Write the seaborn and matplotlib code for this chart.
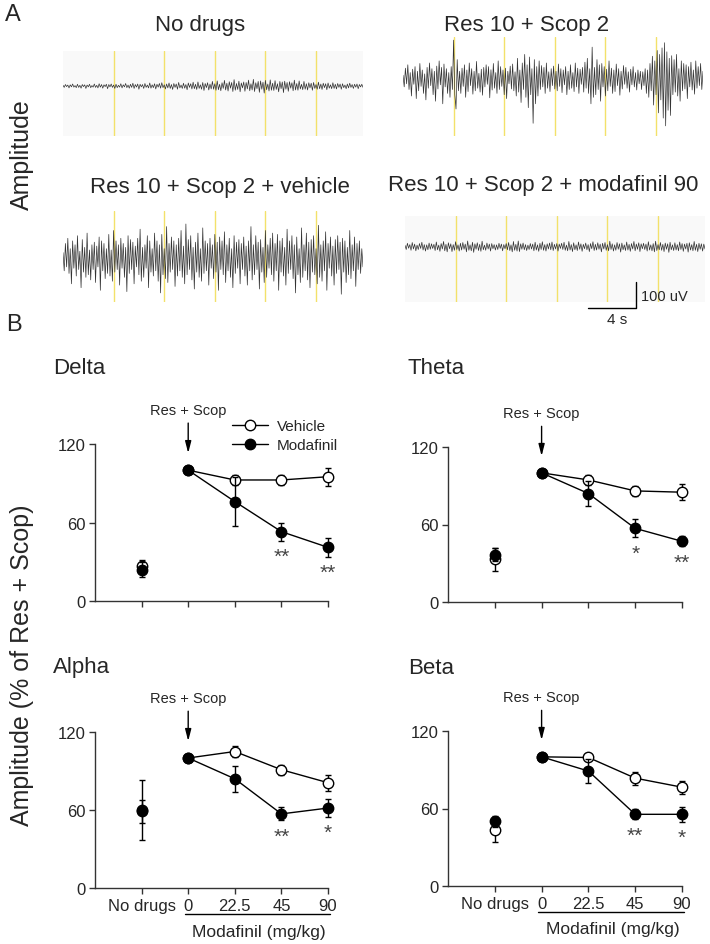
import numpy as np
import pandas as pd
import matplotlib
matplotlib.use("Agg")
import matplotlib.pyplot as plt
import matplotlib.transforms as mtransforms
from matplotlib.lines import Line2D
import seaborn as sns

sns.set_style("ticks")
plt.rcParams["font.family"] = ["Liberation Sans", "DejaVu Sans"]

W, H = 710, 945

# --- panel A: example EEG traces (uV), one sample every 0.1 s ---
sample_step = 0.1
trace_no_drugs = [
    3, -5, 6, -2, 4, -7, 5, -3, 8, -4, 2, -6, 7, -5, 3, -8, 6, -2, 5, -9, 4, -3, 7, -6, 2,
    -4, 8, -5, 3, -7, 9, -4, 6, -8, 5, -2, 7, -10, 6, -3, 8, -5, 4, -9, 7, -6, 3, -4, 9, -7,
    5, -3, 10, -6, 4, -8, 7, -5, 11, -9, 6, -4, 8, -12, 7, -3, 6, -9, 10, -5, 4, -7, 12, -8, 5,
    -6, 9, -11, 7, -4, 10, -8, 13, -6, 5, -11, 8, -7, 12, -9, 6, -13, 10, -5, 8, -12, 14, -7, 4, -9,
    11, -8, 6, -14, 12, -5, 9, -11, 15, -10, 7, -13, 16, -9, 5, -12, 14, -17, 10, -6, 13, -15, 8, -11, 18,
    -12, 9, -16, 20, -14, 7, -18, 13, -9, 22, -15, 11, -19, 17, -8, 14, -21, 25, -16, 10, -13, 19, -22, 12, -7,
    16, -20, 14, -11, 23, -18, 9, -15, 26, -21, 13, -10, 18, -24, 20, -12, 15, -27, 22, -14, 8, -19, 24, -16, 11,
    -17, 21, -13, 9, -22, 18, -10, 16, -25, 19, -12, 14, -20, 17, -8, 13, -18, 23, -15, 10, -16, 20, -11, 7, -14,
    18, -12, 9, -15, 13, -7, 11, -16, 14, -9, 6, -12, 15, -10, 8, -13, 11, -6, 9, -14, 12, -8, 5, -10, 13,
    -9, 7, -11, 10, -5, 8, -12, 9, -6, 4, -10, 8, -7, 11, -5, 6, -9, 7, -4, 8, -10, 6, -3, 7, -5,
]
trace_res_scop = [
    15, -30, 42, -18, 55, -40, 25, -65, 38, -20, 48, -75, 30, -45, 60, -28, 35, -55, 20, -80, 45, -35, 62, -25, 40,
    -60, 30, -85, 50, -38, 70, -22, 45, -95, 58, -30, 40, -55, 25, -70, 48, -40, 150, -60, -115, 75, -45, 30, -55, 42,
    -28, 55, -70, 35, -48, 62, -25, 40, -58, 30, -45, 68, -35, 22, -50, 38, -62, 45, -30, 55, -20, 48, -72, 36, -42,
    60, -35, 25, -55, 70, -40, 48, -28, 35, -60, 42, -75, 30, -18, 50, -38, 58, -45, 28, -65, 80, -50, 35, -90, 62,
    -40, 95, -70, 55, -110, 85, -60, 40, -170, 75, -95, 48, -65, 70, -40, 52, -30, 45, -55, 62, -35, 28, -48, 40, -25,
    50, -38, 30, -45, 58, -28, 40, -52, 35, -22, 48, -60, 30, -40, 55, -35, 25, -48, 62, -30, 42, -55, 38, -20, 45,
    -50, 65, -35, 80, -55, 40, -95, 123, -70, 45, -60, 75, -40, 55, -85, 60, -30, 48, -65, 38, -45, 70, -28, 42, -55,
    35, -48, 58, -25, 40, -62, 30, -38, 52, -20, 45, -35, 28, -50, 38, -22, 48, -30, 25, -42, 35, -18, 30, -40, 28,
    -25, 40, -55, 35, -70, 60, -45, 88, -100, 70, -60, 110, -130, 95, -80, 120, -150, 140, -180, 105, -120, 80, -140, 90, -60,
    75, -50, 95, -65, 40, -85, 70, -45, 60, -38, 55, -75, 48, -30, 65, -42, 35, -58, 70, -35, 48, -25, 60, -40, 30,
]
trace_vehicle = [
    25, -45, 60, -30, 80, -55, 40, -95, 70, -35, 55, -65, 90, -40, 30, -110, 75, -50, 45, -70, 100, -60, 35, -80, 55,
    -40, 65, -90, 50, -30, 85, -120, 70, -45, 60, -75, 40, -55, 95, -65, 35, -85, 110, -50, 70, -40, 55, -100, 80, -35,
    60, -70, 45, -125, 90, -55, 75, -40, 65, -95, 50, -30, 80, -60, 115, -85, 45, -70, 55, -35, 90, -110, 70, -50, 40,
    -65, 100, -45, 70, -85, 55, -130, 95, -60, 40, -75, 125, -90, 60, -50, 85, -40, 70, -105, 55, -65, 80, -45, 110, -70,
    50, -95, 135, -60, 75, -40, 90, -80, 45, -115, 65, -50, 100, -70, 40, -85, 120, -55, 70, -45, 60, -100, 80, -35, 55,
    -75, 95, -50, 65, -120, 85, -40, 70, -60, 105, -90, 55, -45, 80, -70, 40, -110, 90, -55, 65, -35, 75, -95, 60, -40,
    85, -65, 50, -100, 70, -45, 125, -80, 55, -60, 90, -40, 65, -115, 75, -50, 45, -90, 110, -70, 55, -35, 80, -60, 100,
    -85, 60, -45, 95, -120, 70, -50, 80, -65, 45, -100, 115, -55, 70, -40, 90, -75, 55, -130, 85, -60, 40, -90, 120, -70,
    55, -45, 100, -80, 65, -110, 75, -50, 90, -60, 40, -95, 130, -70, 55, -85, 70, -45, 105, -120, 60, -35, 85, -65, 50,
    -100, 75, -55, 90, -40, 65, -135, 80, -50, 70, -90, 45, -60, 110, -75, 55, -45, 85, -105, 60, -40, 70, -55, 40, -30,
]
trace_modafinil = [
    6, -10, 14, -5, 9, -13, 17, -8, 11, -15, 7, -10, 13, -6, 18, -12, 9, -16, 8, -11, 15, -9, 12, -6, 10,
    -14, 19, -11, 7, -17, 13, -8, 21, -15, 10, -19, 16, -7, 12, -18, 9, -13, 20, -10, 8, -16, 14, -12, 17, -9,
    11, -19, 23, -13, 8, -15, 18, -21, 12, -9, 16, -14, 10, -17, 22, -11, 7, -13, 15, -8, 11, -16, 13, -7, 9,
    -12, 8, -10, 14, -6, 11, -15, 9, -7, 13, -11, 17, -14, 8, -19, 21, -13, 10, -16, 23, -18, 12, -9, 15, -11,
    9, -14, 7, -10, 13, -8, 11, -15, 18, -12, 8, -17, 14, -10, 20, -13, 9, -16, 12, -8, 15, -11, 19, -14, 10,
    -8, 13, -16, 11, -6, 14, -10, 18, -13, 7, -15, 21, -12, 9, -18, 16, -11, 8, -14, 19, -9, 12, -17, 10, -7,
    15, -11, 9, -18, 13, -7, 20, -14, 10, -12, 16, -9, 11, -19, 14, -8, 17, -13, 9, -15, 22, -10, 12, -16, 8,
    -13, 17, -9, 12, -20, 15, -11, 8, -14, 19, -12, 10, -17, 13, -8, 21, -15, 11, -9, 16, -18, 12, -7, 14, -10,
    11, -16, 20, -12, 8, -15, 13, -19, 22, -14, 9, -11, 17, -13, 10, -18, 15, -9, 12, -21, 18, -11, 8, -14, 16,
    -12, 9, -15, 19, -10, 13, -17, 11, -8, 14, -20, 16, -12, 9, -15, 21, -13, 10, -18, 14, -9, 12, -16, 11, -8,
]
yellow_marks = [4.2, 8.4, 12.6, 16.8, 21.0]

# --- panel B: amplitude, % of Res + Scop (mean, sem) ---
doses = ["No drugs", "0", "22.5", "45", "90"]

delta_vehicle = [27, 100, 92.5, 92.5, 95]
delta_vehicle_sem = [4, 0, 4, 4, 7]
delta_modafinil = [24, 100, 76, 53, 41]
delta_modafinil_sem = [6, 0, 19, 7, 7]
delta_stars = ["", "", "", "**", "**"]

theta_vehicle = [33, 100, 94.5, 86, 85]
theta_vehicle_sem = [9, 0, 4, 4, 6]
theta_modafinil = [36.5, 100, 84, 57, 47]
theta_modafinil_sem = [5, 0, 10, 7, 4]
theta_stars = ["", "", "", "*", "**"]

alpha_vehicle = [60, 100, 105, 91, 81]
alpha_vehicle_sem = [23, 0, 4, 4, 6]
alpha_modafinil = [59, 100, 84, 57, 61.5]
alpha_modafinil_sem = [9, 0, 10, 5, 7]
alpha_stars = ["", "", "", "**", "*"]

beta_vehicle = [43, 100, 99.5, 83.5, 76.5]
beta_vehicle_sem = [9, 0, 2, 5, 5]
beta_modafinil = [50, 100, 89, 55.5, 55.5]
beta_modafinil_sem = [4, 0, 9, 4, 6]
beta_stars = ["", "", "", "**", "*"]

fig = plt.figure(figsize=(W / 100, H / 100), dpi=100)


def px_axes(left, top, right, bottom):
    return fig.add_axes([left / W, 1 - bottom / H, (right - left) / W, (bottom - top) / H])


def px_text(x, y, s, **kw):
    fig.text(x / W, 1 - y / H, s, **kw)


def draw_trace(box, ylim, values, face):
    ax = px_axes(*box)
    ax.set_facecolor(face)
    t = np.arange(len(values)) * sample_step
    for m in yellow_marks:
        ax.axvline(m, color="#f3e16a", lw=1, zorder=1)
    sns.lineplot(x=t, y=values, ax=ax, color="#333333", lw=0.5, estimator=None, zorder=2)
    ax.set_xlim(0, t[-1])
    ax.set_ylim(*ylim)
    ax.set_xticks([])
    ax.set_yticks([])
    ax.set_xlabel("")
    ax.set_ylabel("")
    for s in ax.spines.values():
        s.set_visible(False)
    return ax


draw_trace((63, 52, 363, 137), (-192, 135), trace_no_drugs, "#f9f9f9")
draw_trace((403, 38, 703, 137), (-219, 162), trace_res_scop, "white")
draw_trace((63, 212, 363, 303), (-165, 185), trace_vehicle, "white")
ax4 = draw_trace((405, 217, 705, 303), (-212, 119), trace_modafinil, "#f9f9f9")

# scale bar
ax4.plot([15.2, 19.2, 19.2], [-235, -235, -135], color="black", lw=1, clip_on=False)
ax4.text(19.6, -190, "100 uV", ha="left", va="center", fontsize=10.5)
ax4.text(17.6, -278, "4 s", ha="center", va="center", fontsize=11)

px_text(200, 25, "No drugs", ha="center", va="center", fontsize=16)
px_text(527, 25, "Res 10 + Scop 2", ha="center", va="center", fontsize=16)
px_text(220, 188, "Res 10 + Scop 2 + vehicle", ha="center", va="center", fontsize=16)
px_text(543, 185, "Res 10 + Scop 2 + modafinil 90", ha="center", va="center", fontsize=16)
px_text(13, 15, "A", ha="center", va="center", fontsize=17)
px_text(22, 155, "Amplitude", ha="center", va="center", rotation=90, fontsize=18)


def draw_band(box, title_xy, name, veh, veh_sem, mod, mod_sem, stars, bottom_row, legend=False):
    ax = px_axes(*box)
    pos = np.arange(len(doses))
    df = pd.DataFrame({
        "pos": np.r_[pos, pos],
        "mean": veh + mod,
        "sem": veh_sem + mod_sem,
        "group": ["Vehicle"] * len(doses) + ["Modafinil"] * len(doses),
    })
    connected = df[df["pos"] >= 1]
    sns.lineplot(data=connected, x="pos", y="mean", hue="group",
                 palette={"Vehicle": "black", "Modafinil": "black"},
                 estimator=None, legend=False, lw=1, ax=ax, zorder=2)
    for grp, face, z in [("Vehicle", "white", 3), ("Modafinil", "black", 4)]:
        d = df[df["group"] == grp]
        ax.errorbar(d["pos"], d["mean"], yerr=d["sem"], fmt="o", ms=7.5, mfc=face,
                    mec="black", mew=1, ecolor="black", elinewidth=1, capsize=2.5,
                    capthick=1, zorder=z, clip_on=False)
    for i, s in enumerate(stars):
        if s:
            ax.text(i, mod[i] - mod_sem[i] - 12, s, ha="center", va="center", fontsize=15, color="#444444")

    ax.annotate("", xy=(1, 113), xytext=(1, 136), annotation_clip=False,
                arrowprops=dict(arrowstyle="-|>,head_length=0.7,head_width=0.18",
                                color="black", lw=1, shrinkA=0, shrinkB=0))
    ax.text(1, 146, "Res + Scop", ha="center", va="center", fontsize=10.5, clip_on=False)

    ax.set_xlim(-1, 4)
    ax.set_ylim(0, 120)
    ax.set_yticks([0, 60, 120])
    ax.set_xticks(pos)
    ax.set_xticklabels(doses if bottom_row else [""] * len(doses))
    ax.set_xlabel("")
    ax.set_ylabel("")
    sns.despine(ax=ax)
    for s in ["left", "bottom"]:
        ax.spines[s].set_linewidth(1)
        ax.spines[s].set_color("#333333")
    ax.tick_params(direction="out", length=4, width=1, color="#333333", labelsize=12, pad=3)

    if bottom_row:
        trans = mtransforms.blended_transform_factory(ax.transData, ax.transAxes)
        ax.plot([0.93, 4.05], [-0.167, -0.167], transform=trans, color="black", lw=1, clip_on=False)
        ax.text(2.52, -0.276, "Modafinil (mg/kg)", transform=trans, ha="center", va="center", fontsize=12.5)

    if legend:
        handles = [
            Line2D([], [], color="black", lw=1, marker="o", ms=7.5, mfc="white", mec="black"),
            Line2D([], [], color="black", lw=1, marker="o", ms=7.5, mfc="black", mec="black"),
        ]
        ax.legend(handles, ["Vehicle", "Modafinil"], loc="upper left", bbox_to_anchor=(0.59, 1.16),
                  frameon=False, fontsize=11, handlelength=2.3, handletextpad=0.6,
                  labelspacing=0.35, borderpad=0, borderaxespad=0)

    px_text(title_xy[0], title_xy[1], name, ha="left", va="center", fontsize=16)
    return ax


draw_band((95, 445, 328, 602), (53, 368), "Delta", delta_vehicle, delta_vehicle_sem,
          delta_modafinil, delta_modafinil_sem, delta_stars, False, legend=True)
draw_band((448, 448, 682, 603), (408, 368), "Theta", theta_vehicle, theta_vehicle_sem,
          theta_modafinil, theta_modafinil_sem, theta_stars, False)
draw_band((95, 733, 328, 889), (53, 668), "Alpha", alpha_vehicle, alpha_vehicle_sem,
          alpha_modafinil, alpha_modafinil_sem, alpha_stars, True)
draw_band((448, 732, 682, 887), (408, 668), "Beta", beta_vehicle, beta_vehicle_sem,
          beta_modafinil, beta_modafinil_sem, beta_stars, True)

px_text(14, 325, "B", ha="center", va="center", fontsize=17)
px_text(22, 665, "Amplitude (% of Res + Scop)", ha="center", va="center", rotation=90, fontsize=18)

fig.savefig("out.png", dpi=100)
